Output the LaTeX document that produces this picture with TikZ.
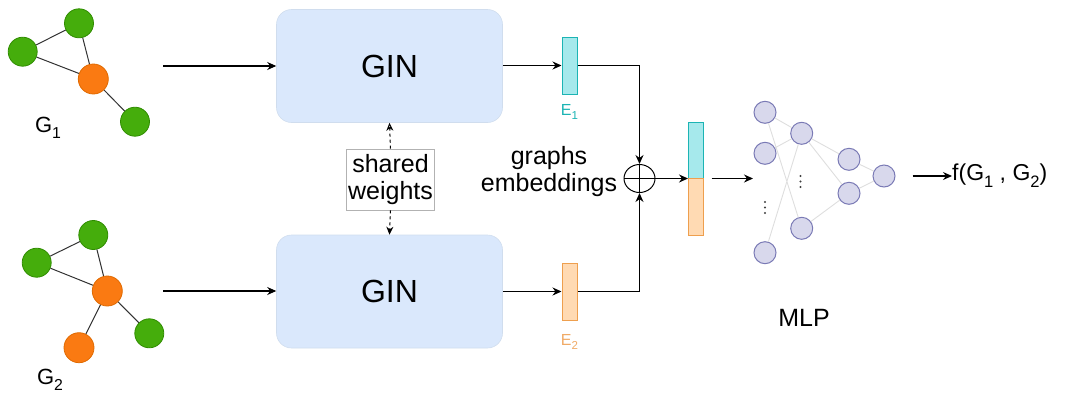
\documentclass[tikz,border=0pt]{standalone}
\usepackage{fontspec}
\setmainfont{Liberation Sans}
\usetikzlibrary{arrows.meta,shapes.geometric}
\definecolor{gfill}{HTML}{45AD0C}
\definecolor{gdraw}{HTML}{2F8C00}
\definecolor{ofill}{HTML}{FA7A12}
\definecolor{odraw}{HTML}{E06A00}
\definecolor{ginfill}{HTML}{DAE8FC}
\definecolor{gindraw}{HTML}{D0DDEE}
\definecolor{cyfill}{HTML}{A6E9EC}
\definecolor{cydraw}{HTML}{1CB4B4}
\definecolor{orfill}{HTML}{FFDAB3}
\definecolor{ordraw}{HTML}{EE9F4E}
\definecolor{e2text}{HTML}{F0AA66}
\definecolor{mfill}{HTML}{D8D8EC}
\definecolor{mdraw}{HTML}{7A7AB5}
\newcommand\lowsub[1]{\raisebox{-0.3em}{\scalebox{0.72}{#1}}}
\tikzset{
  gnode/.style={circle,fill=gfill,draw=gdraw,line width=0.8pt,minimum size=29pt,inner sep=0pt},
  onode/.style={circle,fill=ofill,draw=odraw,line width=0.8pt,minimum size=30pt,inner sep=0pt},
  gedge/.style={draw=black!80,line width=1pt},
  ginbox/.style={rectangle,rounded corners=15pt,fill=ginfill,draw=gindraw,line width=0.6pt,minimum width=226pt,minimum height=113pt,font=\fontsize{32}{38}\selectfont},
  arr/.style={draw=black,line width=1.1pt,-{Stealth[length=9pt,width=8pt]}},
  e1box/.style={rectangle,fill=cyfill,draw=cydraw,line width=1pt,minimum width=15pt,minimum height=57pt,inner sep=0pt},
  e2box/.style={rectangle,fill=orfill,draw=ordraw,line width=1pt,minimum width=15pt,minimum height=57pt,inner sep=0pt},
  mnode/.style={circle,fill=mfill,draw=mdraw,line width=1pt,minimum size=22pt,inner sep=0pt},
  medge/.style={draw=black!13,line width=0.9pt},
  mdot/.style={circle,fill=black!75,minimum size=2.2pt,inner sep=0pt},
  lbl/.style={font=\fontsize{22}{26}\selectfont},
  big/.style={font=\fontsize{25}{29}\selectfont,align=center},
}
\begin{document}
\begin{tikzpicture}[x=1pt,y=-1pt]
\useasboundingbox (0,0) rectangle (1069,397);
% Graph 1
\node[gnode] (a1) at (22.7,51.7) {};
\node[gnode] (a2) at (79,23.3) {};
\node[onode] (a3) at (93.3,79) {};
\node[gnode] (a4) at (135,121.7) {};
\draw[gedge] (a1) -- (a2) (a1) -- (a3) (a2) -- (a3) (a3) -- (a4);
\node[lbl] (g1) at (48,128) {G\lowsub{1}};
% Graph 2
\node[gnode] (b1) at (36.7,262.7) {};
\node[gnode] (b2) at (93.3,235) {};
\node[onode] (b3) at (107.3,291) {};
\node[gnode] (b4) at (149.3,333.3) {};
\node[onode] (b5) at (79,347.7) {};
\draw[gedge] (b1) -- (b2) (b1) -- (b3) (b2) -- (b3) (b3) -- (b4) (b3) -- (b5);
\node[lbl] (g2) at (50,380) {G\lowsub{2}};
% GIN boxes
\node[ginbox] (gin1) at (389.5,66) {GIN};
\node[ginbox] (gin2) at (389.5,291.5) {GIN};
\coordinate (s1) at (163,66);
\coordinate (s2) at (163,291);
\draw[arr] (s1) -- (gin1.west |- s1);
\draw[arr] (s2) -- (gin2.west |- s2);
% shared weights
\node[draw=black!30,fill=white,line width=0.8pt,big,inner sep=2pt,minimum width=87pt,minimum height=61pt] (sw) at (390.5,179.5) {shared\\[-2pt]weights};
\draw[dashed,line width=1pt,-{Stealth[open,length=8pt,width=7pt]}] (sw.north) -- (gin1.south);
\draw[dashed,line width=1pt,-{Stealth[length=8pt,width=7pt]}] (sw.south) -- (gin2.north);
% embeddings
\node[e1box] (e1) at (569.5,65.5) {};
\node[e2box] (e2) at (569.5,291.5) {};
\draw[arr] (gin1.east |- e1) -- (e1.west);
\draw[arr] (gin2.east |- e2) -- (e2.west);
\node[font=\fontsize{16}{19}\selectfont,text=cydraw] (e1l) at (569.5,112) {E\lowsub{1}};
\node[font=\fontsize{16}{19}\selectfont,text=e2text] (e2l) at (569.5,342) {E\lowsub{2}};
\node[big] (ge) at (549,172) {graphs\\[-2pt]embeddings};
% oplus
\node[ellipse,draw=black,line width=1pt,minimum width=31pt,minimum height=28pt,inner sep=0pt,fill=white] (op) at (639.5,178.5) {};
\draw[black,line width=1pt] (op.west) -- (op.east) (op.north) -- (op.south);
\coordinate (k1) at (639.5,65.5);
\coordinate (k2) at (639.5,291.5);
\draw[black,line width=1.1pt] (e1.east) -- (k1);
\draw[black,line width=1.1pt] (e2.east) -- (k2);
\draw[arr] (k1) -- (op.north);
\draw[arr] (k2) -- (op.south);
% combined vector
\node[e1box,minimum height=56pt] (c1) at (695.5,150) {};
\node[e2box,minimum height=57pt] (c2) at (695.5,206.5) {};
\coordinate (cm) at (688,178.5);
\draw[arr] (op.east) -- (cm);
\coordinate (mo) at (753,178.5);
\draw[arr,shorten <=8pt] (c1.south east) -- (mo);
% MLP
\node[mnode] (m11) at (765,112.3) {};
\node[mnode] (m12) at (765,153.3) {};
\node[mnode] (m14) at (765,252.7) {};
\node[mnode] (m21) at (801.7,133.3) {};
\node[mnode] (m22) at (801.7,228.3) {};
\node[mnode] (m31) at (849,159.3) {};
\node[mnode] (m32) at (849,193.3) {};
\node[mnode] (m41) at (884,176) {};
\draw[medge] (m11) -- (m22) (m12) -- (m21) (m14) -- (m21) (m11) -- (m21)
  (m21) -- (m31) (m21) -- (m32) (m22) -- (m32) (m31) -- (m41) (m32) -- (m41);
\node[mdot] (d11) at (765,202) {};
\node[mdot] (d12) at (765,207.5) {};
\node[mdot] (d13) at (765,213) {};
\node[mdot] (d21) at (800.5,176) {};
\node[mdot] (d22) at (800.5,181.5) {};
\node[mdot] (d23) at (800.5,187) {};
\node[font=\fontsize{25}{29}\selectfont] (mlp) at (804,318) {MLP};
% output
\coordinate (o1) at (952,176);
\draw[arr,shorten <=17pt] (m41.east) -- (o1);
\node[font=\fontsize{23}{27}\selectfont,anchor=west,inner sep=0pt] (out) at (o1) {f(G\lowsub{1} , G\lowsub{2})};
\end{tikzpicture}
\end{document}
